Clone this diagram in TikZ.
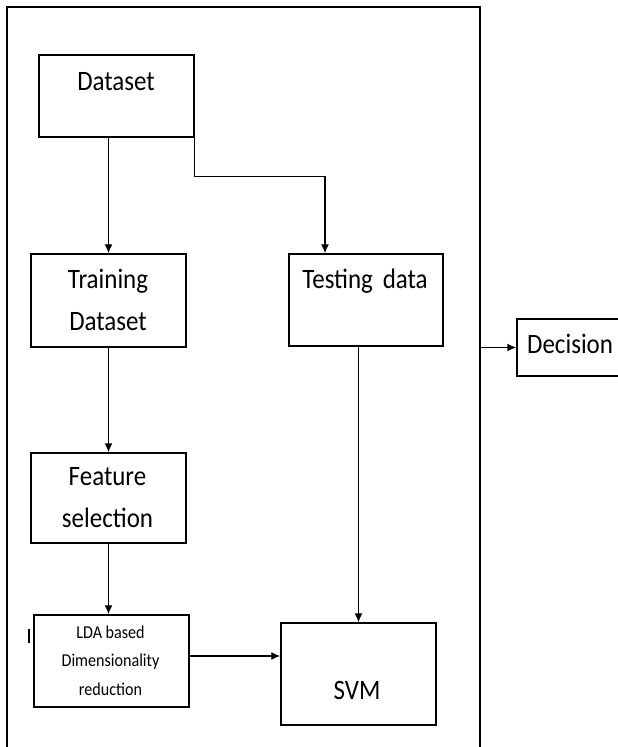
\documentclass[tikz,border=0pt]{standalone}
\usepackage{fontspec}
\usepackage{graphicx}
\setmainfont{Carlito}
\usetikzlibrary{arrows.meta}
\newcommand{\tallbox}[1]{\scalebox{1.04}[1.17]{\begin{tabular}[t]{@{}c@{}}#1\end{tabular}}}
\begin{document}
\begin{tikzpicture}[x=1pt, y=-1pt,
        block/.style={rectangle, draw, line width=1.5pt, inner sep=0pt},
        txt/.style={anchor=base, inner sep=0pt, font=\fontsize{24}{35.9}\selectfont},
        small/.style={anchor=base, inner sep=0pt, font=\fontsize{15.5}{24.4}\selectfont},
        arrow/.style={-{Latex[length=9pt,width=8pt]}, line width=1.4pt},
      ]
      \useasboundingbox (0,0) rectangle (618,747);
      \clip (0,0) rectangle (618,747);
      %Frame
      \draw[line width=1.5pt] (7,747) -- (7,7) -- (480,7) -- (480,747);
      \coordinate (frameout) at (480,347.5);
      \draw[line width=1.8pt] (29,629) -- (29,643);

      %Nodes
      \node[block, minimum width=155pt, minimum height=82pt]  (dataset)  at (116.5,96)  {};
      \node[block, minimum width=155pt, minimum height=93pt]  (train)    at (108.5,300.5) {};
      \node[block, minimum width=154pt, minimum height=92pt]  (test)     at (366,300)   {};
      \node[block, minimum width=155pt, minimum height=90pt]  (feat)     at (108.5,498) {};
      \node[block, minimum width=155pt, minimum height=92pt]  (lda)      at (111.5,661) {};
      \node[block, minimum width=155pt, minimum height=102pt] (svm)      at (358.5,674) {};
      \node[block, minimum width=120pt, minimum height=57pt]  (decision) at (577,347.5) {};

      \node[txt]   (datasetlbl)  at (116,90)    {\tallbox{Dataset}};
      \node[txt]   (trainlbl)    at (108,288)   {\tallbox{Training\\Dataset}};
      \node[txt]   (testlbl)     at (365,288)   {\tallbox{Testing\ \,data}};
      \node[txt]   (featlbl)     at (107.5,485) {\tallbox{Feature\\selection}};
      \node[small] (ldalbl)      at (110.5,638) {\tallbox{LDA based\\Dimensionality\\reduction}};
      \node[txt]   (svmlbl)      at (357,699)   {\tallbox{SVM}};
      \node[txt, anchor=base west] (decisionlbl) at (527,353) {\tallbox{Decision}};

      %Lines
      \draw[arrow] (dataset.south -| train.north) -- (train.north);
      \draw[arrow] (dataset.south east) -- ++(0,39) -| ([xshift=-41pt]test.north);
      \draw[arrow] (train.south) -- (feat.north);
      \draw[arrow] (feat.south) -- (feat.south |- lda.north);
      \draw[arrow] ([yshift=5pt]lda.east) -- ([yshift=5pt]lda.east -| svm.west);
      \draw[arrow] (test.south -| svm.north) -- (svm.north);
      \draw[arrow] (frameout) -- (frameout -| decision.west);
    \end{tikzpicture}
\end{document}
